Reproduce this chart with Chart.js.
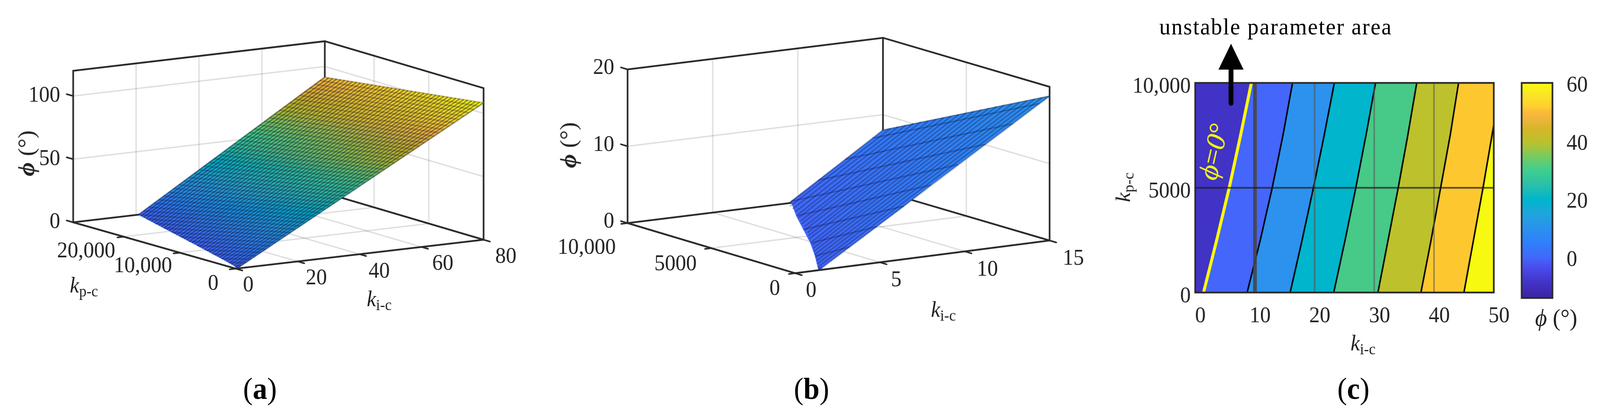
<!DOCTYPE html>
<html>
<head>
<meta charset="utf-8">
<title>phi surfaces</title>
<script src="https://cdn.jsdelivr.net/npm/chart.js@4"></script>
<style>
  html, body { margin: 0; background: #fff; overflow: hidden; }
  /* the browser window stops at 4096 wide, so the 4308 layout is squeezed to fit it */
  #page { position: absolute; left: 0; top: 0; width: 4308px; height: 1074px; transform-origin: 0 0; overflow: hidden; font-family: "Liberation Serif", serif; color: #222; }
  canvas { position: absolute; top: 0; }
  .txt { position: absolute; white-space: nowrap; line-height: 1; font-size: 56px; }
  .txt i { font-style: italic; }
  .txt sub { font-size: 40px; vertical-align: -10px; line-height: 0; }
  .cap { font-size: 78px; color: #000; }
  .phi { font-size: 62px; }
  .note { font-size: 60px; letter-spacing: 2.5px; color: #000; }
  .zero { font-size: 74px; color: #ffff00; }
</style>
</head>
<body>
<div id="page">
<canvas id="chartA" width="1430" height="1074" style="left:0"></canvas>
<canvas id="chartB" width="1500" height="1074" style="left:1436px"></canvas>
<canvas id="chartC" width="1120" height="1074" style="left:2960px"></canvas>
<canvas id="chartBar" width="258" height="1074" style="left:4050px"></canvas>
</div>
<script>
document.getElementById('page').style.transform = `scale(${Math.min(1, window.innerWidth / 4308)},1)`;

// panel (a): surface
const kiTicksA = [0, 20, 40, 60, 80];
const kpTicksA = [0, 10000, 20000];
const phiTicksA = [0, 50, 100];
const kiMeshA = [0.3, 1.6, 3.2, 4.8, 6.4, 8, 9.6, 11.2, 12.8, 14.4, 16, 17.6, 19.2, 20.8, 22.4, 24, 25.6, 27.2, 28.8, 30.4, 32, 33.6, 35.2, 36.8, 38.4, 40, 41.6, 43.2, 44.8, 46.4, 48, 49.6, 51.2, 52.8, 54.4, 56, 57.6, 59.2, 60.8, 62.4, 64, 65.6, 67.2, 68.8, 70.4, 72, 73.6, 75.2, 76.8, 78.4, 80];
const phiFrontA = [0, 1.8, 3.9, 6.1, 8.3, 10.5, 12.6, 14.8, 17, 19.2, 21.4, 23.5, 25.7, 27.9, 30.1, 32.2, 34.4, 36.6, 38.8, 40.9, 43.1, 45.3, 47.5, 49.6, 51.8, 54, 56.2, 58.3, 60.5, 62.7, 64.9, 67, 69.2, 71.4, 73.6, 75.8, 77.9, 80.1, 82.3, 84.5, 86.6, 88.8, 91, 93.2, 95.3, 97.5, 99.7, 101.9, 104, 106.2, 108.4];
const kpEndA = [0, 1000, 3000, 5200, 7600, 9900, 12200, 14600, 17000, 19400, 21800, 24200, 26600, 29000, 29000, 29000, 29000, 29000, 29000, 29000, 29000, 29000, 29000, 29000, 29000, 29000, 29000, 29000, 29000, 29000, 29000, 29000, 29000, 29000, 29000, 29000, 29000, 29000, 29000, 29000, 29000, 29000, 29000, 29000, 29000, 29000, 29000, 29000, 29000, 29000, 29000];
const phiBackA = [0, 0, 0, 0, 0, 0, 0, 0, 0, 0, 0, 0, 0, 0, 2.5, 5, 7.5, 9.9, 12.4, 14.9, 17.4, 19.9, 22.4, 24.8, 27.3, 29.8, 32.3, 34.8, 37.3, 39.7, 42.2, 44.7, 47.2, 49.7, 52.2, 54.7, 57.1, 59.6, 62.1, 64.6, 67.1, 69.6, 72, 74.5, 77, 79.5, 82, 84.5, 86.9, 89.4, 91.5];
const kpMeshA = [0, 725, 1450, 2175, 2900, 3625, 4350, 5075, 5800, 6525, 7250, 7975, 8700, 9425, 10150, 10875, 11600, 12325, 13050, 13775, 14500, 15225, 15950, 16675, 17400, 18125, 18850, 19575, 20300, 21025, 21750, 22475, 23200, 23925, 24650, 25375, 26100, 26825, 27550, 28275, 29000];
const kiZeroA = [0.3, 1.2, 1.95, 2.5, 3.1, 3.65, 4.2, 4.7, 5.2, 5.7, 6.2, 6.7, 7.2, 7.7, 8.2, 8.7, 9.2, 9.7, 10.2, 10.7, 11.1, 11.6, 12.1, 12.6, 13.1, 13.5, 14, 14.5, 15, 15.5, 16, 16.4, 16.9, 17.4, 17.9, 18.4, 18.9, 19.3, 19.8, 20.3, 20.8];
const phiEndA = [108.4, 108, 107.6, 107.1, 106.7, 106.3, 105.9, 105.4, 105, 104.6, 104.2, 103.8, 103.3, 102.9, 102.5, 102.1, 101.6, 101.2, 100.8, 100.4, 100, 99.5, 99.1, 98.7, 98.3, 97.8, 97.4, 97, 96.6, 96.2, 95.7, 95.3, 94.9, 94.5, 94, 93.6, 93.2, 92.8, 92.3, 91.9, 91.5];

// panel (b)
const kiTicksB = [0, 5, 10, 15];
const kpTicksB = [0, 5000, 10000];
const phiTicksB = [0, 10, 20];
const kiMeshB = [1.4, 1.6, 3.2, 4.8, 6.4, 8, 9.6, 11.2, 12.8, 14.4, 15];
const phiFrontB = [0, 0.3, 2.5, 4.7, 6.9, 9.2, 11.4, 13.6, 15.8, 18, 18.8];
const kpEndB = [0, 250, 2050, 3950, 6000, 8050, 10000, 10000, 10000, 10000, 10000];
const phiBackB = [0, 0, 0, 0, 0, 0, 0.2, 2.5, 4.8, 7.1, 8];
const kpMeshB = [0, 455, 909, 1364, 1818, 2273, 2727, 3182, 3636, 4091, 4545, 5000, 5455, 5909, 6364, 6818, 7273, 7727, 8182, 8636, 9091, 9545, 10000];
const kiZeroB = [1.4, 1.8, 2.2, 2.6, 3, 3.4, 3.8, 4.2, 4.6, 5, 5.3, 5.7, 6.1, 6.4, 6.8, 7.1, 7.5, 7.8, 8.2, 8.5, 8.8, 9.1, 9.5];
const phiEndB = [18.8, 18.3, 17.8, 17.3, 16.8, 16.3, 15.9, 15.4, 14.9, 14.4, 13.9, 13.4, 12.9, 12.4, 11.9, 11.4, 10.9, 10.5, 10, 9.5, 9, 8.5, 8];

// panel (c): contour positions, ki at each kp level
const kiTicksC = [0, 10, 20, 30, 40, 50];
const kpTicksC = [0, 5000, 10000];
const kpTickLabelsC = ['0', '5000', '10,000'];
const kpLevels = [0, 2500, 5000, 7500, 10000];
const leftEdge = [0, 0, 0, 0, 0];
const contour0 = [1.4, 3.6, 5.7, 7.6, 9.4];
const contour10 = [8.7, 10.9, 12.9, 14.7, 16.3];
const contour20 = [15.9, 17.9, 19.8, 21.6, 23.3];
const contour30 = [23.2, 25.1, 26.9, 28.6, 30.2];
const contour40 = [30.6, 32.3, 34, 35.6, 37.1];
const contour50 = [37.8, 39.5, 41.1, 42.7, 44.1];
const contour60 = [45, 46.6, 48.2, 49.7, 51.2];
const rightEdge = [53, 53, 53, 53, 53];
const regionColors = ['#4033c6', '#4466fa', '#2c92ee', '#00b5cc', '#47c987', '#bdc12c', '#fdc82f', '#f8f910'];

// colour bar
const barTicks = [0, 20, 40, 60];
const colormapValues = [-14, -8, -3, 0, 5, 10, 15, 20, 25, 30, 35, 38, 40, 44, 47, 50, 52, 55, 60];
const colormapColors = ['#3b24a0', '#4436cc', '#4a50f0', '#4268fb', '#2f80fb', '#2b92ee', '#1fa6dc', '#00b6cc', '#2cc0a8', '#3fcf8e', '#7acb60', '#a8c43a', '#bdc12c', '#d6b52a', '#eab53a', '#feb93b', '#ffd030', '#fbe028', '#f9fb14'];
const phiToBar = 0.56;

const dark = '#2b2b2b';
const wallGrid = 'rgba(0,0,0,0.13)';
const serif = '"Liberation Serif", serif';
const tickFontSize = 57;

function hexRgb(h) {
  return [1, 3, 5].map(i => parseInt(h.slice(i, i + 2), 16));
}

function colorAt(phi) {
  const v = Math.min(60, phi * phiToBar);
  let i = colormapValues.findIndex(c => c >= v);
  if (i <= 0) return colormapColors[0];
  const f = (v - colormapValues[i - 1]) / (colormapValues[i] - colormapValues[i - 1]);
  const a = hexRgb(colormapColors[i - 1]), b = hexRgb(colormapColors[i]);
  return `rgb(${a.map((c, k) => Math.round(c + (b[k] - c) * f)).join(',')})`;
}

// view: corner pixels of the floor plus the height of one degree
const viewA = {
  left: 0, width: 1430, kiMax: 80, kpMax: 29000, phiMax: 120, perDeg: 3.23,
  O: [635, 687], A: [667, -74], B: [-438, -118.5], C: [10.5, -1.5]
};
const viewB = {
  left: 1436, width: 1500, kiMax: 15, kpMax: 10000, phiMax: 20, perDeg: 19.65,
  O: [2141, 698.6], A: [685, -83.6], B: [-451.3, -128.1], C: [2.7, 2.8]
};

function project(v, ki, kp, phi) {
  const s = ki / v.kiMax, t = kp / v.kpMax;
  return {
    x: v.O[0] + s * v.A[0] + t * v.B[0] + s * t * v.C[0],
    y: v.O[1] + s * v.A[1] + t * v.B[1] + s * t * v.C[1] - phi * v.perDeg
  };
}

function lineSet(data, color, width) {
  return { data, showLine: true, borderColor: color, borderWidth: width, pointRadius: 0, fill: false, tension: 0, borderCapStyle: 'round' };
}

function boxSets(v, kiTicks, kpTicks, phiTicks) {
  const P = (a, b, c) => project(v, a, b, c);
  const { kiMax: iM, kpMax: pM, phiMax: zM } = v;
  const back = [], front = [];
  kiTicks.slice(1, -1).forEach(k => {
    back.push(lineSet([P(k, 0, 0), P(k, pM, 0), P(k, pM, zM)], wallGrid, 3.5));
  });
  kpTicks.filter(k => k > 0 && k < pM).forEach(k => {
    back.push(lineSet([P(0, k, 0), P(iM, k, 0), P(iM, k, zM)], wallGrid, 3.5));
  });
  phiTicks.filter(z => z > 0 && z < zM).forEach(z => {
    back.push(lineSet([P(0, pM, z), P(iM, pM, z), P(iM, 0, z)], wallGrid, 3.5));
  });
  back.push(lineSet([P(0, pM, 0), P(iM, pM, 0), P(iM, 0, 0)], dark, 4.5));
  back.push(lineSet([P(iM, pM, 0), P(iM, pM, zM)], dark, 4.5));
  back.push(lineSet([P(0, pM, 0), P(0, pM, zM), P(iM, pM, zM), P(iM, 0, zM), P(iM, 0, 0)], dark, 4.5));
  front.push(lineSet([P(0, pM, 0), P(0, 0, 0), P(iM, 0, 0)], dark, 4.5));
  kiTicks.forEach(k => front.push(lineSet([P(k, 0, 0), P(k, -pM * 0.04, 0)], dark, 4)));
  kpTicks.forEach(k => front.push(lineSet([P(0, k, 0), P(-iM * 0.025, k, 0)], dark, 4)));
  phiTicks.forEach(z => front.push(lineSet([P(0, pM, z), P(0, pM * 1.04, z)], dark, 4)));
  return { back, front };
}

function surfaceSets(v, ctx, kiMesh, phiFront, kpEnd, phiBack, kpMesh, kiZero, phiEnd, meshAlpha, meshWidth, kiAlpha) {
  const sets = [];
  for (let i = 0; i < kiMesh.length - 1; i++) {
    const f0 = project(v, kiMesh[i], 0, phiFront[i]), f1 = project(v, kiMesh[i + 1], 0, phiFront[i + 1]);
    const b0 = project(v, kiMesh[i], kpEnd[i], phiBack[i]), b1 = project(v, kiMesh[i + 1], kpEnd[i + 1], phiBack[i + 1]);
    const g = ctx.createLinearGradient(f1.x - v.left, f1.y, b1.x - v.left, b1.y);
    g.addColorStop(0, colorAt((phiFront[i] + phiFront[i + 1]) / 2));
    g.addColorStop(1, colorAt((phiBack[i] + phiBack[i + 1]) / 2));
    sets.push({ data: [f0, f1, b1, b0, f0], showLine: true, fill: 'shape', backgroundColor: g, borderColor: g, borderWidth: 1.2, pointRadius: 0, tension: 0 });
  }
  kpMesh.forEach((kp, i) => {
    const s = lineSet([project(v, kiZero[i], kp, 0), project(v, v.kiMax, kp, phiEnd[i])], `rgba(10,10,40,${meshAlpha})`, meshWidth);
    s.borderCapStyle = 'butt';
    sets.push(s);
  });
  kiMesh.slice(1).forEach((ki, n) => {
    const i = n + 1;
    const s = lineSet([project(v, ki, 0, phiFront[i]), project(v, ki, kpEnd[i], phiBack[i])], `rgba(10,10,40,${kiAlpha})`, 3.5);
    s.borderCapStyle = 'butt';
    sets.push(s);
  });
  return sets;
}

function tickTextPlugin(v, items) {
  return {
    id: 'tickText',
    afterDatasetsDraw(chart) {
      const { ctx, scales } = chart;
      ctx.save();
      ctx.font = `${tickFontSize}px ${serif}`;
      ctx.fillStyle = '#222';
      ctx.textBaseline = 'middle';
      items.forEach(it => {
        const p = project(v, it.ki, it.kp, it.phi);
        ctx.textAlign = it.align || 'center';
        ctx.fillText(it.text, scales.x.getPixelForValue(p.x) + it.dx, scales.y.getPixelForValue(p.y) + it.dy);
      });
      ctx.restore();
    }
  };
}

function chart3d(id, v, datasets, items) {
  datasets.forEach((d, i) => { d.order = -i; d.clip = false; });
  new Chart(document.getElementById(id), {
    type: 'scatter',
    data: { datasets },
    plugins: [tickTextPlugin(v, items)],
    options: {
      responsive: false, animation: false, devicePixelRatio: 1,
      layout: { padding: 0, autoPadding: false },
      plugins: { legend: { display: false }, tooltip: { enabled: false } },
      scales: {
        x: { type: 'linear', display: false, min: v.left, max: v.left + v.width },
        y: { type: 'linear', display: false, reverse: true, min: 0, max: 1074 }
      }
    }
  });
}

function offsetItems(values, kind, offsets, align) {
  return values.map((val, i) => ({
    text: kind === 'kp' && val >= 10000 ? val.toLocaleString('en-US') : String(val),
    ki: kind === 'ki' ? val : 0,
    kp: kind === 'kp' ? val : (kind === 'phi' ? offsets.kpAt : 0),
    phi: kind === 'phi' ? val : 0,
    dx: offsets.list ? offsets.list[i][0] : offsets.dx,
    dy: offsets.list ? offsets.list[i][1] : offsets.dy,
    align
  }));
}

// panel (a)
const ctxA = document.getElementById('chartA').getContext('2d');
const boxA = boxSets(viewA, kiTicksA, kpTicksA, phiTicksA);
chart3d('chartA', viewA,
  [...boxA.back,
   ...surfaceSets(viewA, ctxA, kiMeshA, phiFrontA, kpEndA, phiBackA, kpMeshA, kiZeroA, phiEndA, 0.4, 4, 0.24),
   ...boxA.front],
  [...offsetItems(kiTicksA, 'ki', { list: [[33.5, 43], [50, 43.5], [52.5, 45], [57, 44], [60, 44]] }),
   ...offsetItems(kpTicksA, 'kp', { list: [[-61, 38.6], [-99, 35], [-101, 38]] }),
   ...offsetItems(phiTicksA, 'phi', { kpAt: viewA.kpMax, dx: -35, dy: 0 }, 'right')]);

// panel (b)
const ctxB = document.getElementById('chartB').getContext('2d');
const boxB = boxSets(viewB, kiTicksB, kpTicksB, phiTicksB);
chart3d('chartB', viewB,
  [...boxB.back,
   ...surfaceSets(viewB, ctxB, kiMeshB, phiFrontB, kpEndB, phiBackB, kpMeshB, kiZeroB, phiEndB, 0.28, 4.3, 0.3),
   ...boxB.front],
  [...offsetItems(kiTicksB, 'ki', { list: [[43, 45], [43.7, 46], [60.8, 47], [64, 47]] }),
   ...offsetItems(kpTicksB, 'kp', { list: [[-55, 40.7], [-96.5, 41], [-110, 64]] }),
   ...offsetItems(phiTicksB, 'phi', { kpAt: viewB.kpMax, dx: -36, dy: -3 }, 'right')]);

// panel (c)
const contours = [contour0, contour10, contour20, contour30, contour40, contour50, contour60];
const edges = [leftEdge, ...contours, rightEdge];
const pointsOf = (kis, flip) => {
  const pts = kis.map((ki, i) => ({ x: ki, y: kpLevels[i] }));
  return flip ? pts.reverse() : pts;
};
const setsC = regionColors.map((color, i) => {
  const first = pointsOf(edges[i]);
  return {
    data: [...first, ...pointsOf(edges[i + 1], true), first[0]],
    showLine: true, fill: 'shape', backgroundColor: color, borderColor: color, borderWidth: 1, pointRadius: 0, tension: 0
  };
});
contours.slice(1).forEach(c => setsC.push(lineSet(pointsOf(c), '#000', 4)));
const yellowLine = lineSet(pointsOf(contour0), '#ffff00', 8);
yellowLine.clip = false;
setsC.push(yellowLine);
setsC.forEach((d, i) => { d.order = -i; });

const arrowKi = 6, arrowKpTail = 9030, arrowKpBase = 10636, arrowKpTip = 11869, arrowHalfKi = 2.1;

const framePlugin = {
  id: 'frame',
  afterDraw(chart) {
    const { ctx, chartArea: a } = chart;
    ctx.save();
    ctx.strokeStyle = dark;
    ctx.lineWidth = 4.5;
    ctx.strokeRect(a.left, a.top, a.right - a.left, a.bottom - a.top);
    ctx.restore();
  }
};

const arrowPlugin = {
  id: 'arrow',
  afterDraw(chart) {
    const { ctx, scales: { x, y } } = chart;
    ctx.save();
    ctx.strokeStyle = '#000';
    ctx.fillStyle = '#000';
    ctx.lineWidth = 13;
    ctx.lineCap = 'round';
    ctx.beginPath();
    ctx.moveTo(x.getPixelForValue(arrowKi), y.getPixelForValue(arrowKpTail));
    ctx.lineTo(x.getPixelForValue(arrowKi), y.getPixelForValue(arrowKpBase));
    ctx.stroke();
    ctx.beginPath();
    ctx.moveTo(x.getPixelForValue(arrowKi), y.getPixelForValue(arrowKpTip));
    ctx.lineTo(x.getPixelForValue(arrowKi + arrowHalfKi), y.getPixelForValue(arrowKpBase));
    ctx.lineTo(x.getPixelForValue(arrowKi - arrowHalfKi), y.getPixelForValue(arrowKpBase));
    ctx.closePath();
    ctx.fill();
    ctx.restore();
  }
};

const xGridWidth = { 10: 10, 20: 5, 30: 4, 40: 4 };
const xGridColor = { 10: 'rgba(70,70,70,0.9)', 20: 'rgba(90,90,90,0.6)', 30: 'rgba(90,90,90,0.6)', 40: 'rgba(90,90,90,0.6)' };

new Chart(document.getElementById('chartC'), {
  type: 'scatter',
  data: { datasets: setsC },
  plugins: [framePlugin, arrowPlugin],
  options: {
    responsive: false, animation: false, devicePixelRatio: 1,
    layout: { padding: { left: 0, right: 58, top: 212, bottom: 226 }, autoPadding: false },
    plugins: { legend: { display: false }, tooltip: { enabled: false } },
    scales: {
      x: {
        type: 'linear', min: 0, max: 50,
        afterBuildTicks: s => { s.ticks = kiTicksC.map(value => ({ value })); },
        afterFit: s => { s.height = 100; },
        border: { display: false },
        grid: {
          z: 1, drawTicks: false,
          color: c => xGridColor[c.tick.value] || 'transparent',
          lineWidth: c => xGridWidth[c.tick.value] || 0
        },
        ticks: { color: '#222', font: { family: serif, size: tickFontSize }, padding: 27, labelOffset: 14, maxRotation: 0, autoSkip: false }
      },
      y: {
        type: 'linear', min: 0, max: 10000,
        afterBuildTicks: s => { s.ticks = kpTicksC.map(value => ({ value })); },
        afterFit: s => { s.width = 258; },
        border: { display: false },
        grid: {
          z: 1, drawTicks: false,
          color: c => (c.tick.value === 5000 ? 'rgba(30,30,30,0.7)' : 'transparent'),
          lineWidth: c => (c.tick.value === 5000 ? 4.5 : 0)
        },
        ticks: {
          color: '#222', font: { family: serif, size: tickFontSize }, padding: 12, labelOffset: 10,
          autoSkip: false,
          callback: v => kpTickLabelsC[kpTicksC.indexOf(v)]
        }
      }
    }
  }
});

// colour bar
new Chart(document.getElementById('chartBar'), {
  type: 'bar',
  data: {
    labels: ['phi'],
    datasets: [{
      data: [[-14, 60]],
      barPercentage: 1, categoryPercentage: 1,
      backgroundColor: c => {
        const { chart } = c;
        if (!chart.chartArea) return colormapColors[0];
        const y = chart.scales.y;
        const g = chart.ctx.createLinearGradient(0, y.getPixelForValue(-14), 0, y.getPixelForValue(60));
        colormapValues.forEach((v, i) => g.addColorStop((v + 14) / 74, colormapColors[i]));
        return g;
      }
    }]
  },
  plugins: [framePlugin],
  options: {
    responsive: false, animation: false, devicePixelRatio: 1,
    layout: { padding: { left: 47, right: 0, top: 212, bottom: 312 }, autoPadding: false },
    plugins: { legend: { display: false }, tooltip: { enabled: false } },
    scales: {
      x: { display: false },
      y: {
        position: 'right', min: -14, max: 60,
        afterBuildTicks: s => { s.ticks = barTicks.map(value => ({ value })); },
        afterFit: s => { s.width = 128; },
        border: { display: false },
        grid: { drawOnChartArea: false, color: dark, lineWidth: 3, tickLength: -8 },
        ticks: { color: '#222', font: { family: serif, size: tickFontSize }, padding: 46, labelOffset: 7, autoSkip: false }
      }
    }
  }
});

// labels
const kLabel = sub => `<i>k</i><sub>${sub}</sub>`;
const phiLabel = '<i>ϕ</i> (°)';
const phiLabelBold = '<i><b>ϕ</b></i> (°)';
const labels = [
  [phiLabelBold, 71, 392, -90, 'txt phi'], [kLabel('p-c'), 226, 729, 0, 'txt'], [kLabel('i-c'), 1021, 764, 0, 'txt'],
  [phiLabelBold, 1530, 371, -90, 'txt phi'], [kLabel('i-c'), 2540, 791, 0, 'txt'],
  [kLabel('i-c'), 3670, 877, 0, 'txt'], [kLabel('p-c'), 3023, 479, -90, 'txt'], [phiLabel, 4190, 812, 0, 'txt phi'],
  ['unstable parameter area', 3435, 68, 0, 'txt note'],
  ['<i>ϕ</i>=<i>0</i>°', 3267, 387, -76.6, 'txt zero']
];
const caps = [['(<b>a</b>)', 700, 994], ['(<b>b</b>)', 2185, 994], ['(<b>c</b>)', 3644, 994]];

function addText(html, x, y, rot, cls) {
  const d = document.createElement('div');
  d.className = cls;
  d.innerHTML = html;
  d.style.left = x + 'px';
  d.style.top = y + 'px';
  d.style.transform = `translate(-50%,-50%) rotate(${rot}deg)`;
  document.getElementById('page').appendChild(d);
}
labels.forEach(([h, x, y, r, cls]) => addText(h, x, y, r, cls));
caps.forEach(([h, x, y]) => addText(h, x, y, 0, 'txt cap'));
</script>
</body>
</html>
